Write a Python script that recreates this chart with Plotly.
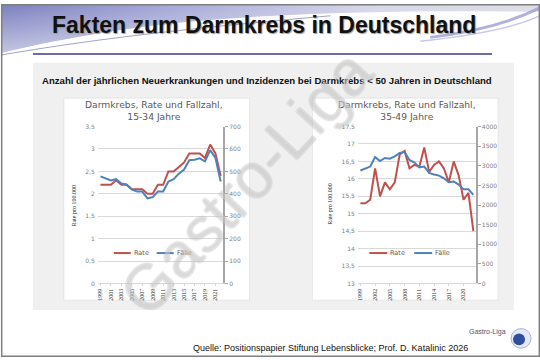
import base64
import plotly.graph_objects as go

# ---------------- data ----------------
years = list(range(1999, 2023))
rate_15_34 = [2.2, 2.2, 2.2, 2.3, 2.2, 2.2, 2.1, 2.1, 2.1, 2.0, 2.0, 2.2,
              2.2, 2.5, 2.5, 2.6, 2.7, 2.9, 2.9, 2.9, 2.8, 3.1, 2.9, 2.4]
faelle_15_34 = [478, 470, 460, 466, 446, 442, 420, 410, 410, 380, 385, 410,
                410, 455, 465, 490, 508, 550, 552, 558, 545, 595, 560, 455]
rate_35_49 = [15.3, 15.3, 15.4, 16.3, 15.5, 15.9, 15.7, 15.9, 16.7, 16.8, 16.3, 16.4,
              16.35, 16.9, 16.2, 16.4, 16.5, 16.3, 15.9, 16.5, 16.1, 15.4, 15.6, 14.5]
faelle_35_49 = [2880, 2920, 2980, 3220, 3120, 3200, 3180, 3240, 3330, 3350, 3150, 3080,
                2960, 2980, 2820, 2780, 2750, 2680, 2580, 2600, 2520, 2400, 2400, 2260]

xtick_years_15_34 = [1999, 2001, 2003, 2005, 2007, 2009, 2011, 2013, 2015, 2017, 2019, 2021]
xtick_years_35_49 = [1999, 2002, 2005, 2008, 2011, 2014, 2017, 2020]
rate_ticks_15_34 = [0, 0.5, 1, 1.5, 2, 2.5, 3, 3.5]
rate_labels_15_34 = ["0", "0,5", "1", "1,5", "2", "2,5", "3", "3,5"]
faelle_ticks_15_34 = [0, 100, 200, 300, 400, 500, 600, 700]
rate_ticks_35_49 = [13, 13.5, 14, 14.5, 15, 15.5, 16, 16.5, 17, 17.5]
rate_labels_35_49 = ["13", "13,5", "14", "14,5", "15", "15,5", "16", "16,5", "17", "17,5"]
faelle_ticks_35_49 = [0, 500, 1000, 1500, 2000, 2500, 3000, 3500, 4000]

title_text = "Fakten zum Darmkrebs in Deutschland"
subtitle_text = "Anzahl der jährlichen Neuerkrankungen und Inzidenzen bei Darmkrebs < 50 Jahren in Deutschland"
chart_titles = ["Darmkrebs, Rate und Fallzahl,<br>15-34 Jahre", "Darmkrebs, Rate und Fallzahl,<br>35-49 Jahre"]
source_text = "Quelle: Positionspapier Stiftung Lebensblicke; Prof. D. Katalinic 2026"

# ---------------- helpers ----------------
W, H = 540, 360
def fx(x):
    return x / W
def fy(y):
    return 1 - y / H

RED = "#c0504d"
BLUE = "#4f81bd"
GRID = "#d9d9d9"
TICKGRAY = "#7f7f7f"

fig = go.Figure()
fig.add_trace(go.Scatter(x=years, y=rate_15_34, mode="lines", name="Rate",
                         line=dict(color=RED, width=2), xaxis="x", yaxis="y", showlegend=False))
fig.add_trace(go.Scatter(x=years, y=faelle_15_34, mode="lines", name="Fälle",
                         line=dict(color=BLUE, width=2), xaxis="x", yaxis="y2", showlegend=False))
fig.add_trace(go.Scatter(x=years, y=rate_35_49, mode="lines", name="Rate",
                         line=dict(color=RED, width=2), xaxis="x2", yaxis="y3", showlegend=False))
fig.add_trace(go.Scatter(x=years, y=faelle_35_49, mode="lines", name="Fälle",
                         line=dict(color=BLUE, width=2), xaxis="x2", yaxis="y4", showlegend=False))

xfont = dict(family="Liberation Serif", size=6, color="#333333")
yfont = dict(family="DejaVu Sans", size=6, color=TICKGRAY)

def xaxis_cfg(domain, anchor, tickyears):
    return dict(domain=domain, anchor=anchor, range=[1998.5, 2022.5],
                tickvals=tickyears, ticktext=[str(t) for t in tickyears],
                tickangle=-90, tickfont=xfont, showgrid=False, zeroline=False,
                showline=True, linecolor=GRID, linewidth=1,
                ticks="outside", ticklen=2, tickcolor=GRID, fixedrange=True)

def yleft_cfg(domain, anchor, rng, vals, labels):
    return dict(domain=domain, anchor=anchor, range=rng, tickvals=vals, ticktext=labels,
                showgrid=True, gridcolor=GRID, gridwidth=0.8, zeroline=False,
                showline=False, tickfont=yfont, ticks="", ticklabelstandoff=2)

def yright_cfg(over, anchor, rng, vals):
    return dict(overlaying=over, anchor=anchor, side="right", range=rng, tickvals=vals,
                ticktext=[str(v) for v in vals], showgrid=False, zeroline=False,
                color=TICKGRAY, showline=True, linecolor="#a6a6a6", linewidth=1.6,
                ticks="outside", ticklen=3, tickcolor="#a6a6a6", tickfont=yfont)

ydom = [fy(285), fy(125)]
fig.update_layout(
    xaxis=xaxis_cfg([fx(97), fx(222.7)], "y", xtick_years_15_34),
    yaxis=yleft_cfg(ydom, "x", [0, 3.5], rate_ticks_15_34, rate_labels_15_34),
    yaxis2=yright_cfg("y", "x", [0, 700], faelle_ticks_15_34),
    xaxis2=xaxis_cfg([fx(357.6), fx(475.7)], "y3", xtick_years_35_49),
    yaxis3=yleft_cfg(ydom, "x2", [13, 17.5], rate_ticks_35_49, rate_labels_35_49),
    yaxis4=yright_cfg("y3", "x2", [0, 4000], faelle_ticks_35_49),
)

# ---------------- header graphic (decorative swoosh) ----------------
svg = """<svg xmlns='http://www.w3.org/2000/svg' width='540' height='60' viewBox='0 0 540 60'>
<defs>
<linearGradient id='g1' x1='0' y1='0' x2='1' y2='0'>
<stop offset='0' stop-color='#7b7fbe'/>
<stop offset='0.35' stop-color='#a9acd8'/>
<stop offset='0.7' stop-color='#d6d7ea'/>
<stop offset='1' stop-color='#dcdce4'/>
</linearGradient>
<linearGradient id='g2' x1='0' y1='0' x2='0' y2='1'>
<stop offset='0' stop-color='#ffffff' stop-opacity='0'/>
<stop offset='1' stop-color='#ffffff' stop-opacity='0.55'/>
</linearGradient>
</defs>
<path d='M0,0 H540 V8 C430,6 280,8 170,20 C100,28 40,40 0,50 Z' fill='url(#g1)'/>
<path d='M0,0 H540 V8 C430,6 280,8 170,20 C100,28 40,40 0,50 Z' fill='url(#g2)'/>
<path d='M0,52 C70,40 150,28 330,12' stroke='#8688b6' stroke-width='0.8' fill='none'/>
<path d='M430,34 C480,28 512,18 540,4' stroke='#9c9ed4' stroke-width='3' fill='none' opacity='0.8'/>
<path d='M420,38 C478,32 515,24 540,12' stroke='#b9bbe2' stroke-width='1.5' fill='none' opacity='0.8'/>
</svg>"""
svg_uri = "data:image/svg+xml;base64," + base64.b64encode(svg.encode("utf-8")).decode("ascii")
fig.add_layout_image(dict(source=svg_uri, xref="paper", yref="paper", x=0, y=1,
                          sizex=1, sizey=60 / H, xanchor="left", yanchor="top",
                          sizing="stretch", layer="below"))

shapes = []
# grey panel
shapes.append(dict(type="rect", xref="paper", yref="paper", x0=fx(32), x1=fx(514),
                   y0=fy(312), y1=fy(60), fillcolor="#f0f0f0", line=dict(width=0), layer="below"))
# white chart boxes
for (x0, x1) in [(63, 249), (312, 498)]:
    shapes.append(dict(type="rect", xref="paper", yref="paper", x0=fx(x0), x1=fx(x1),
                       y0=fy(302), y1=fy(96), fillcolor="white",
                       line=dict(width=0.6, color="#dcdcdc"), layer="below"))
# blue rule under title
shapes.append(dict(type="line", xref="paper", yref="paper", x0=fx(32), x1=fx(492),
                   y0=fy(51), y1=fy(51), line=dict(color="#3b3b8e", width=1.5)))
# legend keys
for (x0, x1, c) in [(113, 130, RED), (156, 173, BLUE), (369, 387, RED), (414, 432, BLUE)]:
    shapes.append(dict(type="line", xref="paper", yref="paper", x0=fx(x0), x1=fx(x1),
                       y0=fy(254), y1=fy(254), line=dict(color=c, width=2)))
# logo
shapes.append(dict(type="circle", xref="paper", yref="paper", x0=fx(511), x1=fx(531),
                   y0=fy(351), y1=fy(331), fillcolor="#e4e9f4", line=dict(color="#a7b3d3", width=1)))
shapes.append(dict(type="circle", xref="paper", yref="paper", x0=fx(513), x1=fx(525),
                   y0=fy(348), y1=fy(336), fillcolor="#2f4f9e", line=dict(width=0)))
# slide border
shapes.append(dict(type="rect", xref="paper", yref="paper", x0=fx(0.7), x1=fx(539.3),
                   y0=fy(359.3), y1=fy(0.7), line=dict(color="#7f7f7f", width=1.5),
                   fillcolor="rgba(0,0,0,0)", layer="above"))

annotations = []
annotations.append(dict(text="<b>" + title_text + "</b>", x=fx(263), y=fy(21), xref="paper", yref="paper",
                        showarrow=False, xanchor="center", yanchor="middle",
                        font=dict(family="Liberation Sans, Arial", size=23, color="#111111",
                                  shadow="1px 1px 1px #9a9a9a")))
annotations.append(dict(text="<b>" + subtitle_text + "</b>", x=fx(266), y=fy(78), xref="paper", yref="paper",
                        showarrow=False, xanchor="center", yanchor="middle",
                        font=dict(family="Liberation Sans, Arial", size=9.6, color="#111111")))
for (cx, t) in [(153, chart_titles[0]), (407, chart_titles[1])]:
    annotations.append(dict(text=t, x=fx(cx), y=fy(109), xref="paper", yref="paper",
                            showarrow=False, xanchor="center", yanchor="middle",
                            font=dict(family="DejaVu Sans", size=9.2, color="#595959")))
for (cx, cy) in [(72.7, 206), (329.3, 204)]:
    annotations.append(dict(text="Rate pro 100.000", x=fx(cx), y=fy(cy), xref="paper", yref="paper",
                            showarrow=False, xanchor="center", yanchor="middle", textangle=-90,
                            font=dict(family="Liberation Serif", size=6, color="#262626")))
for (lx, t) in [(131, "Rate"), (174, "Fälle"), (388, "Rate"), (433, "Fälle")]:
    annotations.append(dict(text=t, x=fx(lx), y=fy(254), xref="paper", yref="paper",
                            showarrow=False, xanchor="left", yanchor="middle",
                            font=dict(family="DejaVu Sans", size=6.5, color="#595959")))
annotations.append(dict(text=source_text, x=fx(190), y=fy(351), xref="paper", yref="paper",
                        showarrow=False, xanchor="left", yanchor="middle",
                        font=dict(family="Liberation Sans, Arial", size=9, color="#111111")))
annotations.append(dict(text="Gastro-Liga", x=fx(508), y=fy(334), xref="paper", yref="paper",
                        showarrow=False, xanchor="right", yanchor="middle",
                        font=dict(family="Liberation Sans, Arial", size=7, color="#4a5475")))
# watermark
wc = "rgba(140,140,140,0.45)"
wm_shadow = (f"0.7px 0.7px 0 {wc}, -0.7px -0.7px 0 {wc}, 0.7px -0.7px 0 {wc}, -0.7px 0.7px 0 {wc}")
annotations.append(dict(text="Gastro-Liga", x=fx(246), y=fy(182), xref="paper", yref="paper",
                        showarrow=False, xanchor="center", yanchor="middle", textangle=-47,
                        font=dict(family="Liberation Sans, Arial", size=64,
                                  color="rgba(255,255,255,0.3)", shadow=wm_shadow)))

fig.update_layout(
    width=W, height=H, margin=dict(l=0, r=0, t=0, b=0),
    paper_bgcolor="white", plot_bgcolor="rgba(0,0,0,0)",
    separators=",.", showlegend=False,
    shapes=shapes, annotations=annotations,
)

fig.write_html("out.html", config={"displayModeBar": False},
               post_script="document.body.style.margin='0';document.body.style.padding='0';")
